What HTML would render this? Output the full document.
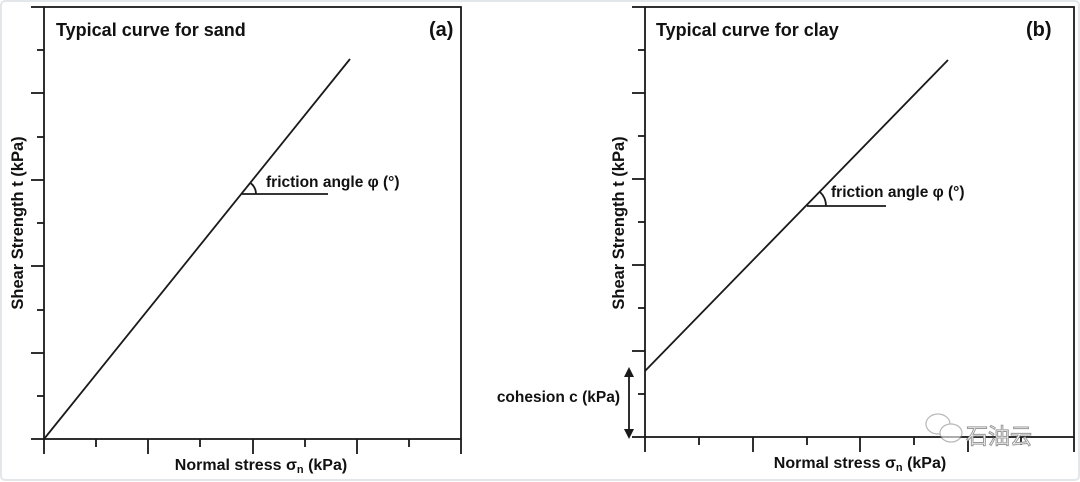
<!DOCTYPE html>
<html><head><style>
body{margin:0;background:#fff;}
svg{display:block;font-family:"Liberation Sans",Arial,sans-serif;font-weight:bold;}
</style></head><body>
<svg width="1080" height="482" viewBox="0 0 1080 482" xmlns="http://www.w3.org/2000/svg">
<rect x="1" y="1" width="1078" height="479" rx="4" fill="#fff" stroke="#e4e7ea" stroke-width="2"/>
<g stroke="#1a1a1a" stroke-width="1.8" fill="none">
<rect x="44" y="7" width="417" height="432"/>
<line x1="31" y1="7" x2="44" y2="7"/>
<line x1="37" y1="50" x2="44" y2="50"/><line x1="31" y1="93" x2="44" y2="93"/>
<line x1="37" y1="137" x2="44" y2="137"/><line x1="31" y1="180" x2="44" y2="180"/>
<line x1="37" y1="223" x2="44" y2="223"/><line x1="31" y1="266" x2="44" y2="266"/>
<line x1="37" y1="310" x2="44" y2="310"/><line x1="31" y1="353" x2="44" y2="353"/>
<line x1="37" y1="396" x2="44" y2="396"/><line x1="31" y1="439" x2="44" y2="439"/>
<line x1="44" y1="439" x2="44" y2="454"/><line x1="96" y1="439" x2="96" y2="447"/>
<line x1="148" y1="439" x2="148" y2="454"/><line x1="200" y1="439" x2="200" y2="447"/>
<line x1="253" y1="439" x2="253" y2="454"/><line x1="305" y1="439" x2="305" y2="447"/>
<line x1="357" y1="439" x2="357" y2="454"/><line x1="409" y1="439" x2="409" y2="447"/>
<line x1="461" y1="439" x2="461" y2="454"/>
<line x1="44" y1="439" x2="350" y2="59"/>
<line x1="242" y1="194" x2="328" y2="194"/>
<path d="M256 194 A14 14 0 0 0 250.5 183"/>
<rect x="645" y="7" width="429" height="430"/>
<line x1="632" y1="7" x2="645" y2="7"/>
<line x1="638" y1="50" x2="645" y2="50"/><line x1="632" y1="93" x2="645" y2="93"/>
<line x1="638" y1="136" x2="645" y2="136"/><line x1="632" y1="179" x2="645" y2="179"/>
<line x1="638" y1="222" x2="645" y2="222"/><line x1="632" y1="265" x2="645" y2="265"/>
<line x1="638" y1="308" x2="645" y2="308"/><line x1="632" y1="351" x2="645" y2="351"/>
<line x1="638" y1="394" x2="645" y2="394"/><line x1="632" y1="437" x2="645" y2="437"/>
<line x1="645" y1="437" x2="645" y2="452"/><line x1="699" y1="437" x2="699" y2="445"/>
<line x1="753" y1="437" x2="753" y2="452"/><line x1="807" y1="437" x2="807" y2="445"/>
<line x1="860" y1="437" x2="860" y2="452"/><line x1="914" y1="437" x2="914" y2="445"/>
<line x1="968" y1="437" x2="968" y2="452"/><line x1="1021" y1="437" x2="1021" y2="445"/>
<line x1="1074" y1="437" x2="1074" y2="452"/>
<line x1="645" y1="371" x2="948" y2="60"/>
<line x1="807" y1="206" x2="886" y2="206"/>
<path d="M826 206 A19 19 0 0 0 820 192"/>
<line x1="629" y1="375" x2="629" y2="431"/>
</g>
<polygon points="629,367 624,377 634,377" fill="#1a1a1a"/>
<polygon points="629,439 624,429 634,429" fill="#1a1a1a"/>
<g fill="#111">
<text x="56" y="36" font-size="18">Typical curve for sand</text>
<text x="429" y="36" font-size="20">(a)</text>
<text x="266" y="187" font-size="15.5">friction angle φ (°)</text>
<text x="261" y="470" text-anchor="middle" font-size="16">Normal stress σ<tspan font-size="11" dy="3">n</tspan><tspan dy="-3"> (kPa)</tspan></text>
<text transform="translate(23,223) rotate(-90)" text-anchor="middle" font-size="16.5">Shear Strength t (kPa)</text>
<text x="656" y="36" font-size="18">Typical curve for clay</text>
<text x="1026" y="36" font-size="20">(b)</text>
<text x="831" y="197" font-size="15.5">friction angle φ (°)</text>
<text x="860" y="468" text-anchor="middle" font-size="16">Normal stress σ<tspan font-size="11" dy="3">n</tspan><tspan dy="-3"> (kPa)</tspan></text>
<text transform="translate(624,223) rotate(-90)" text-anchor="middle" font-size="16.5">Shear Strength t (kPa)</text>
<text x="620" y="402" text-anchor="end" font-size="15.5">cohesion c (kPa)</text>
</g>
<g opacity="0.6" stroke="#888" fill="#fff" stroke-width="1.2">
<ellipse cx="938" cy="424" rx="12" ry="10"/>
<ellipse cx="951" cy="433" rx="11" ry="9"/>
</g>
<text x="966" y="444" font-size="22" fill="#fff" stroke="#999" stroke-width="1" font-weight="normal" style="font-family:'Liberation Sans','Noto Sans CJK SC',sans-serif">石油云</text>
</svg>
</body></html>
